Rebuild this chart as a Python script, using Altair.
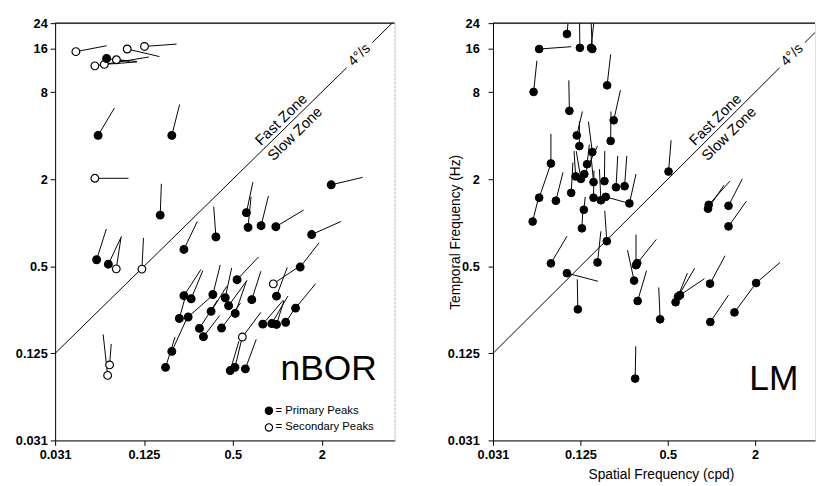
import altair as alt
import pandas as pd

FONT = "Liberation Sans"

X_TICKS = [0.03125, 0.125, 0.5, 2]
Y_TICKS = [0.03125, 0.125, 0.5, 2, 8, 16, 24]
Y_DOMAIN = [0.03125, 24]
TICK_LABEL = "datum.value < 0.05 ? '0.031' : format(datum.value, '~g')"
KINDS = ["Primary Peaks", "Secondary Peaks"]

# ---------------- nBOR ----------------
nbor_sf = [0.0432, 0.0581, 0.0673, 0.0698, 0.0813, 0.0962, 0.126,
           0.0611, 0.193, 0.0581, 0.161, 0.384, 0.233, 0.618, 0.634, 0.777,
           0.978, 1.71, 2.32, 0.0597, 0.0717, 0.0811, 0.121, 0.0731, 0.0709,
           0.175, 0.193, 0.217, 0.249, 0.233, 0.261, 0.297, 0.316, 0.366,
           0.356, 0.419, 0.444, 0.468, 0.519, 0.534, 0.672, 0.580, 0.480,
           0.517, 0.608, 0.798, 0.918, 0.988, 1.14, 1.33, 0.988, 0.940, 1.43]
nbor_tf = [15.25, 12.16, 12.45, 13.67, 13.4, 15.91, 16.57,
           4.02, 4.02, 2.03, 1.13, 0.798, 0.654, 1.175, 0.929, 0.954,
           0.939, 0.829, 1.83, 0.555, 0.517, 0.480, 0.478, 0.104, 0.088,
           0.100, 0.129, 0.218, 0.223, 0.313, 0.298, 0.186, 0.163, 0.319,
           0.244, 0.187, 0.303, 0.267, 0.236, 0.404, 0.294, 0.162, 0.0951,
           0.100, 0.0977, 0.199, 0.201, 0.198, 0.205, 0.257, 0.311, 0.378, 0.494]
nbor_sf2 = [0.0698, 0.135, 0.112, 0.0993, 0.112, 0.159, 0.208,
            0.0789, 0.218, 0.0982, 0.164, 0.371, 0.287, 0.684, 0.664, 0.871,
            1.51, 2.70, 3.79, 0.0695, 0.0881, 0.0873, 0.124, 0.075, 0.0661,
            0.203, 0.242, 0.238, 0.366, 0.304, 0.313, 0.394, 0.407, 0.411,
            0.455, 0.563, 0.491, 0.624, 0.618, 0.747, 0.774, 0.774, 0.550,
            0.578, 0.720, 1.10, 1.18, 1.11, 1.34, 1.82, 1.17, 1.34, 1.92]
nbor_tf2 = [16.75, 14.0, 12.94, 13.04, 13.04, 14.1, 17.2,
            6.23, 6.58, 2.03, 1.86, 1.29, 1.02, 1.91, 1.51, 1.53,
            1.225, 1.02, 2.06, 0.905, 0.807, 0.786, 0.786, 0.145, 0.169,
            0.162, 0.214, 0.306, 0.316, 0.475, 0.467, 0.292, 0.228, 0.511,
            0.364, 0.278, 0.487, 0.400, 0.394, 0.581, 0.462, 0.240, 0.152,
            0.161, 0.156, 0.292, 0.311, 0.289, 0.263, 0.379, 0.492, 0.482, 0.727]
nbor_kind = ["S", "S", "S", "P", "S", "S", "S",
             "P", "P", "S", "P", "P", "P", "P", "P", "P",
             "P", "P", "P", "P", "P", "S", "S", "S", "S",
             "P", "P", "P", "P", "P", "P", "P", "P", "P",
             "P", "P", "P", "P", "P", "P", "P", "S", "P",
             "P", "P", "P", "P", "P", "P", "P", "P", "S", "P"]

# ---------------- LM ----------------
lm_sf = [0.101, 0.065, 0.124, 0.151, 0.148, 0.0595, 0.191, 0.105, 0.212, 0.202,
         0.0783, 0.065, 0.0586, 0.0847, 0.108, 0.118, 0.123, 0.151, 0.139, 0.116,
         0.126, 0.133, 0.154, 0.183, 0.220, 0.252, 0.154, 0.173, 0.187, 0.272,
         0.132, 0.128, 0.190, 0.506, 0.0783, 0.164, 0.101, 0.120, 0.302, 0.308,
         0.293, 0.310, 0.443, 0.298, 0.566, 0.589, 0.607, 0.977, 0.982, 0.957,
         0.947, 1.31, 1.31, 2.03, 1.44]
lm_tf = [20.2, 15.9, 16.2, 15.9, 16.2, 8.03, 8.92, 5.94, 5.11, 3.68,
         2.57, 1.49, 1.02, 1.42, 1.61, 4.02, 3.39, 3.08, 2.54, 2.09,
         2.01, 2.17, 1.91, 1.94, 1.76, 1.79, 1.49, 1.43, 1.51, 1.36,
         1.23, 0.915, 0.746, 2.26, 0.524, 0.532, 0.448, 0.252, 0.509, 0.525,
         0.398, 0.288, 0.215, 0.0836, 0.282, 0.309, 0.316, 0.379, 0.206, 1.33,
         1.25, 1.31, 0.944, 0.383, 0.240]
lm_sf2 = [0.104, 0.108, 0.123, 0.147, 0.158, 0.0627, 0.202, 0.104, 0.236, 0.203,
          0.0783, 0.0771, 0.064, 0.0948, 0.111, 0.129, 0.123, 0.142, 0.144, 0.113,
          0.117, 0.164, 0.148, 0.184, 0.226, 0.261, 0.155, 0.169, 0.272, 0.302,
          0.135, 0.130, 0.184, 0.527, 0.101, 0.173, 0.165, 0.119, 0.302, 0.417,
          0.264, 0.357, 0.433, 0.301, 0.682, 0.765, 0.894, 1.24, 1.31, 1.34,
          1.22, 1.63, 1.74, 2.97, 2.03]
lm_tf2 = [27.2, 16.5, 29.4, 29.4, 29.4, 13.2, 14.6, 9.65, 8.25, 5.88,
          4.12, 2.45, 1.46, 2.23, 2.61, 5.88, 5.03, 5.0, 3.47, 3.13,
          3.13, 3.39, 2.9, 3.13, 2.9, 2.9, 2.30, 2.35, 1.36, 2.17,
          1.51, 1.23, 1.21, 3.72, 0.807, 0.873, 0.394, 0.406, 0.829, 0.767,
          0.646, 0.467, 0.357, 0.140, 0.448, 0.484, 0.410, 0.591, 0.316, 1.94,
          1.82, 2.01, 1.41, 0.532, 0.383]

SPEED = 4            # 4 deg/s iso-velocity line: TF = 4 * SF
LINE_GAP = [2.95, 4.4]  # where the "4°/s" label interrupts the line
ZONE_SF = 1.17


def panel(df, xmax, width, height, name, name_sf, name_tf, right_panel):
    xs = alt.Scale(type="log", base=2, domain=[0.03125, xmax], nice=False)
    ys = alt.Scale(type="log", base=2, domain=Y_DOMAIN, nice=False)
    common = dict(grid=False, tickSize=5, domainColor="black", tickColor="black",
                  labelColor="black", labelFont=FONT, labelFontSize=13,
                  labelFontWeight="bold", labelOverlap=False, domainWidth=1,
                  tickWidth=1)
    xkw = dict(values=X_TICKS, labelExpr=TICK_LABEL, labelPadding=3,
               labelFlush=False, **common)
    ykw = dict(values=Y_TICKS, labelExpr=TICK_LABEL,
               labelPadding=9 if right_panel else 3, **common)
    if right_panel:
        xkw.update(title="Spatial Frequency (cpd)", titleFont=FONT, titleFontSize=14,
                   titleFontWeight="normal", titleColor="black", titleX=171,
                   titleY=39, titleAlign="center", titleBaseline="alphabetic")
        ykw.update(title="Temporal Frequency (Hz)", titleFont=FONT, titleFontSize=14,
                   titleFontWeight="normal", titleColor="black", titleX=-38,
                   titleBaseline="middle", titleAlign="center")
    else:
        xkw["title"] = None
        ykw["title"] = None
    xaxis = alt.Axis(**xkw)
    yaxis = alt.Axis(**ykw)

    def X(f):
        return alt.X(f"{f}:Q", scale=xs, axis=xaxis)

    def Y(f):
        return alt.Y(f"{f}:Q", scale=ys, axis=yaxis)

    diag = pd.DataFrame({"sf": [0.03125, LINE_GAP[1]], "sf2": [LINE_GAP[0], 7.0]})
    diag["tf"] = SPEED * diag["sf"]
    diag["tf2"] = SPEED * diag["sf2"]
    diag_layer = alt.Chart(diag).mark_rule(color="black", strokeWidth=1, clip=True).encode(
        x=X("sf"), y=Y("tf"), x2="sf2:Q", y2="tf2:Q")

    seg_layer = alt.Chart(df).mark_rule(color="black", strokeWidth=1, clip=True).encode(
        x=X("sf"), y=Y("tf"), x2="sf2:Q", y2="tf2:Q")

    if right_panel:
        pts_layer = alt.Chart(df).mark_point(
            shape="circle", filled=True, fill="black", stroke="black", strokeWidth=1,
            size=62, opacity=1, clip=True).encode(x=X("sf"), y=Y("tf"))
    else:
        pts_layer = alt.Chart(df).mark_point(
            shape="circle", filled=True, stroke="black", strokeWidth=1.2,
            size=62, opacity=1, clip=True).encode(
            x=X("sf"), y=Y("tf"),
            fill=alt.Fill("kind:N", scale=alt.Scale(domain=KINDS, range=["black", "white"]),
                          legend=alt.Legend(title=None, orient="none", legendX=212, legendY=389,
                                            labelExpr="'= ' + datum.label", labelFont=FONT,
                                            labelFontSize=11.5, labelColor="black",
                                            symbolType="circle", symbolSize=55,
                                            symbolStrokeColor="black", symbolStrokeWidth=1.2,
                                            labelOffset=1, rowPadding=4, padding=0)))

    mid = (LINE_GAP[0] * LINE_GAP[1]) ** 0.5
    ann = pd.DataFrame({"sf": [mid], "tf": [SPEED * mid], "t": ["4°/s"]})
    speed_txt = alt.Chart(ann).mark_text(font=FONT, fontSize=14.5, angle=315.5, align="center",
                                         baseline="middle", color="black").encode(
        x=X("sf"), y=Y("tf"), text="t:N")
    zones = pd.DataFrame({"sf": [ZONE_SF], "tf": [SPEED * ZONE_SF]})
    fast_txt = alt.Chart(zones).mark_text(font=FONT, fontSize=15, angle=315.5, align="center",
                                          baseline="alphabetic", dy=-4, color="black",
                                          text="Fast Zone").encode(x=X("sf"), y=Y("tf"))
    slow_txt = alt.Chart(zones).mark_text(font=FONT, fontSize=15, angle=315.5, align="center",
                                          baseline="alphabetic", dy=16, color="black",
                                          text="Slow Zone").encode(x=X("sf"), y=Y("tf"))
    nm = pd.DataFrame({"sf": [name_sf], "tf": [name_tf], "t": [name]})
    name_txt = alt.Chart(nm).mark_text(font=FONT, fontSize=36, align="center",
                                       baseline="alphabetic", color="black").encode(
        x=X("sf"), y=Y("tf"), text="t:N")

    one = alt.Data(values=[{}])
    top_border = alt.Chart(one).mark_rule(color="black", strokeWidth=1.2).encode(
        x=alt.value(0), x2=alt.value(width), y=alt.value(0))
    layers = [diag_layer, seg_layer, pts_layer, speed_txt, fast_txt, slow_txt, name_txt, top_border]
    if not right_panel:
        right_border = alt.Chart(one).mark_rule(color="#c8c8c8", strokeWidth=1,
                                                strokeDash=[2, 2]).encode(
            x=alt.value(width), y=alt.value(0), y2=alt.value(height))
        layers.append(right_border)
    return alt.layer(*layers).properties(width=width, height=height)


nbor_df = pd.DataFrame({"sf": nbor_sf, "tf": nbor_tf, "sf2": nbor_sf2, "tf2": nbor_tf2,
                        "kind": ["Primary Peaks" if k == "P" else "Secondary Peaks" for k in nbor_kind]})
lm_df = pd.DataFrame({"sf": lm_sf, "tf": lm_tf, "sf2": lm_sf2, "tf2": lm_tf2})

left = panel(nbor_df, 6.26, 346, 425, "nBOR", 2.23, 0.0815, False)
right = panel(lm_df, 5.17, 328, 425, "LM", 2.69, 0.0697, True)

chart = alt.hconcat(left, right, spacing=50).resolve_scale(
    fill="independent").resolve_legend(fill="independent").properties(
    padding={"left": 6, "top": 4, "right": 0, "bottom": 0}
).configure_view(stroke=None).configure(background="white")

chart.save("out.html", embed_options={"renderer": "svg", "actions": False})
